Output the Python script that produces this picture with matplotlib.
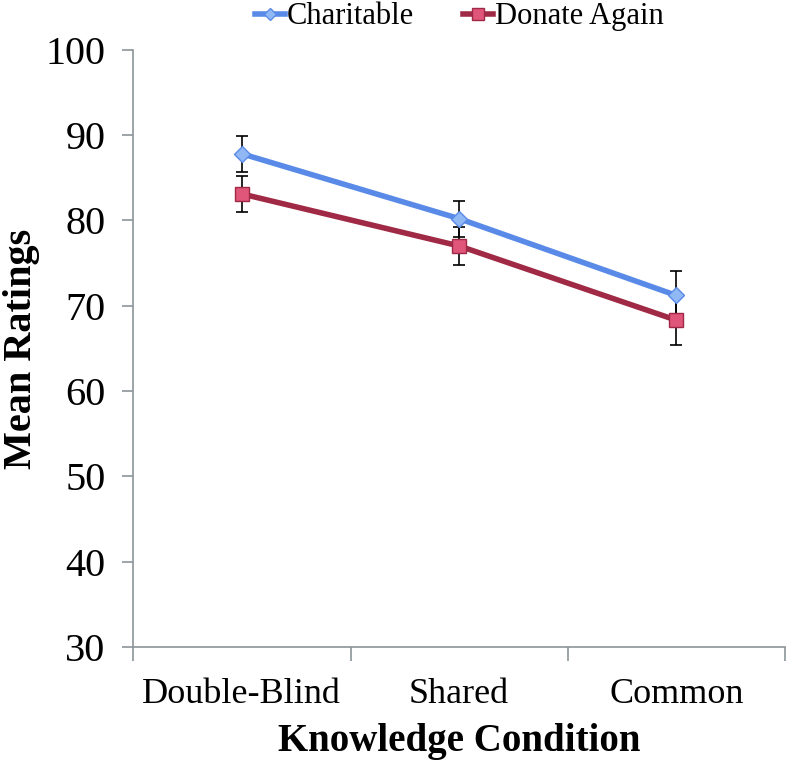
import numpy as np
import matplotlib.pyplot as plt

# data
conditions = ['Double-Blind', 'Shared', 'Common']
charitable = [87.8, 80.2, 71.2]
charitable_err = [2.1, 2.1, 2.9]
donate_again = [83.1, 77.0, 68.3]
donate_again_err = [2.1, 2.2, 2.9]

plt.rcParams['font.family'] = ['Liberation Serif', 'DejaVu Serif']

fig = plt.figure(figsize=(7.93, 7.64), dpi=100)
ax = fig.add_axes([0.168, 0.153, 0.822, 0.782])

x = np.arange(len(conditions))
axis_grey = '#8c9599'

ax.errorbar(x, charitable, yerr=charitable_err, fmt='none', ecolor='black',
            elinewidth=1.2, capsize=4, capthick=1.2, zorder=2)
ax.errorbar(x, donate_again, yerr=donate_again_err, fmt='none', ecolor='black',
            elinewidth=1.2, capsize=4, capthick=1.2, zorder=2)
ax.plot(x, charitable, '-', color='#5a8ae8', lw=4, marker='D', ms=8,
        mfc='#8fb8f5', mec='#5a8ae8', mew=1, label='Charitable', zorder=3)
ax.plot(x, donate_again, '-', color='#a02a45', lw=4, marker='s', ms=10,
        mfc='#e0557a', mec='#a02a45', mew=1, label='Donate Again', zorder=3)

ax.set_xlim(-0.5, 2.5)
ax.set_ylim(30, 100)
ax.set_yticks(np.arange(30, 101, 10))
ax.set_xticks(x)
ax.set_xticklabels(conditions)
ax.set_xticks([-0.5, 0.5, 1.5, 2.5], minor=True)
ax.tick_params(axis='x', which='major', length=0, pad=22, labelsize=26)
ax.tick_params(axis='x', which='minor', length=10, width=1.2, color=axis_grey,
               direction='out')
ax.tick_params(axis='y', length=8, width=1.2, color=axis_grey, pad=12,
               labelsize=29)

for side in ['top', 'right']:
    ax.spines[side].set_visible(False)
for side in ['left', 'bottom']:
    ax.spines[side].set_color(axis_grey)
    ax.spines[side].set_linewidth(1.2)

ax.set_xlabel('Knowledge Condition', fontsize=28, fontweight='bold', labelpad=9)
ax.set_ylabel('Mean Ratings', fontsize=29, fontweight='bold', labelpad=4)

ax.legend(loc='lower center', bbox_to_anchor=(0.5, 1.0), ncol=2, frameon=False,
          fontsize=22, handlelength=1.0, handletextpad=0.05, columnspacing=1.6,
          borderaxespad=0.2, markerscale=0.8)

fig.savefig('out.png', dpi=100)
